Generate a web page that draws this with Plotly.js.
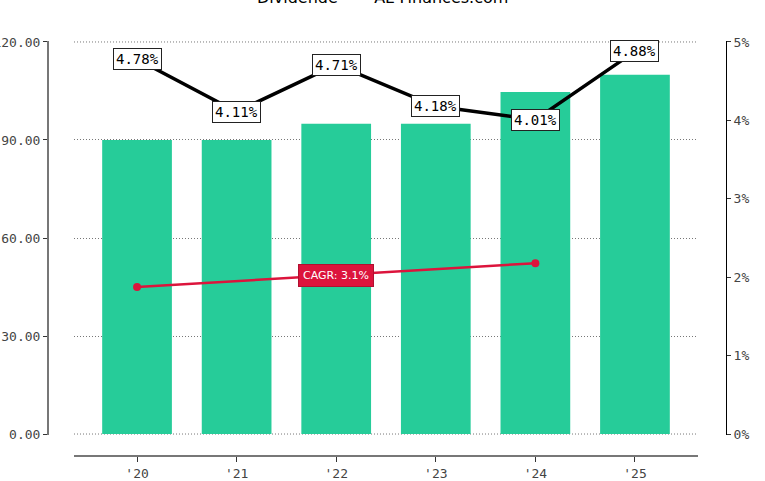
<!DOCTYPE html>
<html>
<head>
<meta charset="utf-8">
<script src="https://cdn.plot.ly/plotly-3.0.1.min.js"></script>
<style>
  html, body { margin: 0; padding: 0; background: #fff; }
  #chart { width: 765px; height: 481px; }
</style>
</head>
<body>
<div id="chart"></div>
<script>
// values
var years = ["'20", "'21", "'22", "'23", "'24", "'25"];
var dividends = [90, 90, 95, 95, 104.7, 110];
var yields = [4.78, 4.11, 4.71, 4.18, 4.01, 4.88];
var cagrYears = ["'20", "'24"];
var cagrLevel = [45, 52.3];
var cagrText = "CAGR: 3.1%";
var leftTicks = [0, 30, 60, 90, 120];
var rightTicks = [0, 1, 2, 3, 4, 5];

var mono = "DejaVu Sans Mono, monospace";
var gridCol = "#777";

var bars = {
  x: years,
  y: dividends,
  type: "bar",
  width: 0.7,
  marker: { color: "#26cc99" },
  hoverinfo: "skip"
};

var yieldLine = {
  x: years,
  y: yields,
  yaxis: "y2",
  type: "scatter",
  mode: "lines",
  line: { color: "#000", width: 3.5 },
  hoverinfo: "skip"
};

var cagr = {
  x: cagrYears,
  y: cagrLevel,
  type: "scatter",
  mode: "lines+markers",
  line: { color: "#dc143c", width: 2.5 },
  marker: { color: "#dc143c", size: 8 },
  hoverinfo: "skip"
};

var notes = yields.map(function (v, i) {
  return {
    x: years[i], y: v, xref: "x", yref: "y2",
    text: v.toFixed(2) + "%",
    showarrow: false,
    font: { family: mono, size: 14, color: "#000" },
    bgcolor: "#fff", bordercolor: "#222", borderwidth: 1, borderpad: 2
  };
});

notes.push({
  x: years[2], y: (cagrLevel[0] + cagrLevel[1]) / 2, xref: "x", yref: "y",
  text: cagrText,
  showarrow: false,
  font: { family: "DejaVu Sans, sans-serif", size: 11, color: "#fff" },
  bgcolor: "#dc143c", bordercolor: "#b01030", borderwidth: 1, borderpad: 4
});

notes.push({
  x: 0.5, y: 1.006, xref: "paper", yref: "paper",
  text: "Dividende  —  AL-Finances.com",
  showarrow: false, yanchor: "middle",
  font: { family: "DejaVu Sans, sans-serif", size: 16, color: "#000" }
});

// the dotted grid at the two ends of the left axis (plotly skips those)
var edgeGrid = [leftTicks[0], leftTicks[leftTicks.length - 1]].map(function (v) {
  return {
    type: "line", layer: "below",
    xref: "paper", x0: 74 / 765, x1: 698 / 765,
    yref: "y", y0: v, y1: v,
    line: { color: gridCol, width: 1, dash: "1px,2px" }
  };
});

var layout = {
  width: 765,
  height: 481,
  margin: { l: 0, r: 0, t: 0, b: 0 },
  paper_bgcolor: "#fff",
  plot_bgcolor: "#fff",
  showlegend: false,
  xaxis: {
    type: "category",
    domain: [74 / 765, 698 / 765],
    range: [-0.633, 5.633],
    anchor: "free",
    position: 1 - 456 / 481,
    showline: true, linecolor: "#777", linewidth: 2,
    ticks: "outside", ticklen: 5, tickcolor: "#333",
    tickfont: { family: mono, size: 13, color: "#444" },
    showgrid: false, zeroline: false, fixedrange: true
  },
  yaxis: {
    domain: [1 - 435 / 481, 1 - 41 / 481],
    range: [-0.3, 120.3],
    anchor: "free",
    position: 47 / 765,
    tickvals: leftTicks,
    ticktext: leftTicks.map(function (v) { return v.toFixed(2); }),
    showline: true, linecolor: "#777", linewidth: 1.5,
    ticks: "outside", ticklen: 4, tickcolor: "#333",
    tickfont: { family: mono, size: 13, color: "#444" },
    showgrid: true, gridcolor: gridCol, gridwidth: 1, griddash: "1px,2px",
    zeroline: false, fixedrange: true
  },
  yaxis2: {
    domain: [1 - 435 / 481, 1 - 41 / 481],
    range: [-0.0125, 5.0125],
    overlaying: "y",
    side: "right",
    anchor: "free",
    position: 726 / 765,
    tickvals: rightTicks,
    ticktext: rightTicks.map(function (v) { return v + "%"; }),
    showline: true, linecolor: "#000", linewidth: 1,
    ticks: "outside", ticklen: 4, tickcolor: "#333",
    tickfont: { family: mono, size: 13, color: "#444" },
    showgrid: false, zeroline: false, fixedrange: true
  },
  shapes: edgeGrid,
  annotations: notes
};

Plotly.newPlot("chart", [bars, cagr, yieldLine], layout, { displayModeBar: false, staticPlot: true });
</script>
</body>
</html>
